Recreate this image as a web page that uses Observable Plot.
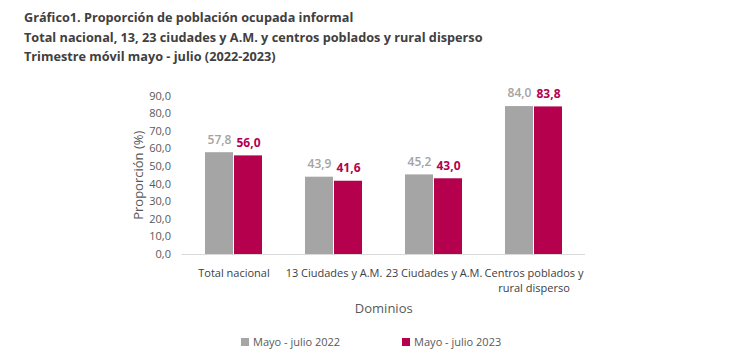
<!DOCTYPE html>
<html>
<head>
<meta charset="utf-8">
<script src="https://cdn.jsdelivr.net/npm/d3@7"></script>
<script src="https://cdn.jsdelivr.net/npm/@observablehq/plot@0.6"></script>
<style>
  html, body { margin: 0; padding: 0; background: #fff; }
  body { width: 754px; height: 362px; position: relative; overflow: hidden; font-family: "Open Sans", sans-serif; }
  #title { position: absolute; left: 24px; top: 8px; font-weight: 700; font-size: 12.7px; line-height: 19.5px; color: #404040; white-space: nowrap; }
  #chart { position: absolute; left: 0; top: 0; }
  #legend { position: absolute; top: 334px; left: 241px; display: flex; font-size: 11px; color: #595959; }
  #legend .item { display: flex; align-items: center; }
  #legend .sw { width: 8px; height: 8px; margin-right: 4px; }
</style>
</head>
<body>
<div id="chart"></div>
<div id="title"></div>
<div id="legend"></div>
<script>
const titleLines = [
  "Gráfico1. Proporción de población ocupada informal",
  "Total nacional, 13, 23 ciudades y A.M. y centros poblados y rural disperso",
  "Trimestre móvil mayo - julio (2022-2023)"
];
const categories = ["Total nacional", "13 Ciudades y A.M.", "23 Ciudades y A.M.", "Centros poblados y\nrural disperso"];
const values2022 = [57.8, 43.9, 45.2, 84.0];
const values2023 = [56.0, 41.6, 43.0, 83.8];
const seriesNames = ["Mayo - julio 2022", "Mayo - julio 2023"];
const yTicks = [0, 10, 20, 30, 40, 50, 60, 70, 80, 90];
const colors = ["#a5a5a5", "#b5004e"];
const labelColors = ["#a3a3a3", "#b5004e"];

const fmt = d => d.toFixed(1).replace(".", ",");
const rows2022 = categories.map((c, i) => ({cat: c, value: values2022[i]}));
const rows2023 = categories.map((c, i) => ({cat: c, value: values2023[i]}));

document.getElementById("title").innerHTML = titleLines.map(t => `<div>${t}</div>`).join("");

const chart = Plot.plot({
  width: 754,
  height: 362,
  marginTop: 95.5,
  marginBottom: 108,
  marginLeft: 181.5,
  marginRight: 169,
  style: {fontFamily: "Open Sans, sans-serif", fontSize: "11px", color: "#595959", background: "transparent"},
  x: {domain: categories, paddingInner: 0.426, paddingOuter: 0.213, label: null},
  y: {domain: [0, 90], label: null},
  marks: [
    Plot.axisY({ticks: yTicks, tickFormat: fmt, tickSize: 0, tickPadding: 11, fontSize: 11, fill: "#595959", label: null}),
    Plot.axisX({tickSize: 0, tickPadding: 12, fontSize: 11, fill: "#404040", label: null, lineHeight: 1.35}),
    Plot.barY(rows2022, {x: "cat", y: "value", fill: colors[0], insetRight: 29}),
    Plot.barY(rows2023, {x: "cat", y: "value", fill: colors[1], insetLeft: 29}),
    Plot.ruleY([0], {stroke: "#d9d9d9", strokeWidth: 1}),
    Plot.text(rows2022, {x: "cat", y: "value", text: d => fmt(d.value), dx: -14.5, dy: -13, fill: labelColors[0], fontSize: 12, fontWeight: "600"}),
    Plot.text(rows2023, {x: "cat", y: "value", text: d => fmt(d.value), dx: 14.5, dy: -13, fill: labelColors[1], fontSize: 12, fontWeight: "700"}),
    Plot.text(["Proporción (%)"], {frameAnchor: "left", textAnchor: "middle", rotate: -90, dx: -43.5, fill: "#595959", fontSize: 13}),
    Plot.text(["Dominios"], {frameAnchor: "bottom", lineAnchor: "middle", dy: 54, fill: "#595959", fontSize: 13})
  ]
});
document.getElementById("chart").appendChild(chart);

document.getElementById("legend").innerHTML = seriesNames.map((s, i) =>
  `<div class="item" style="margin-right:${i === 0 ? 62 : 0}px"><span class="sw" style="background:${colors[i]}"></span>${s}</div>`
).join("");
</script>
</body>
</html>
